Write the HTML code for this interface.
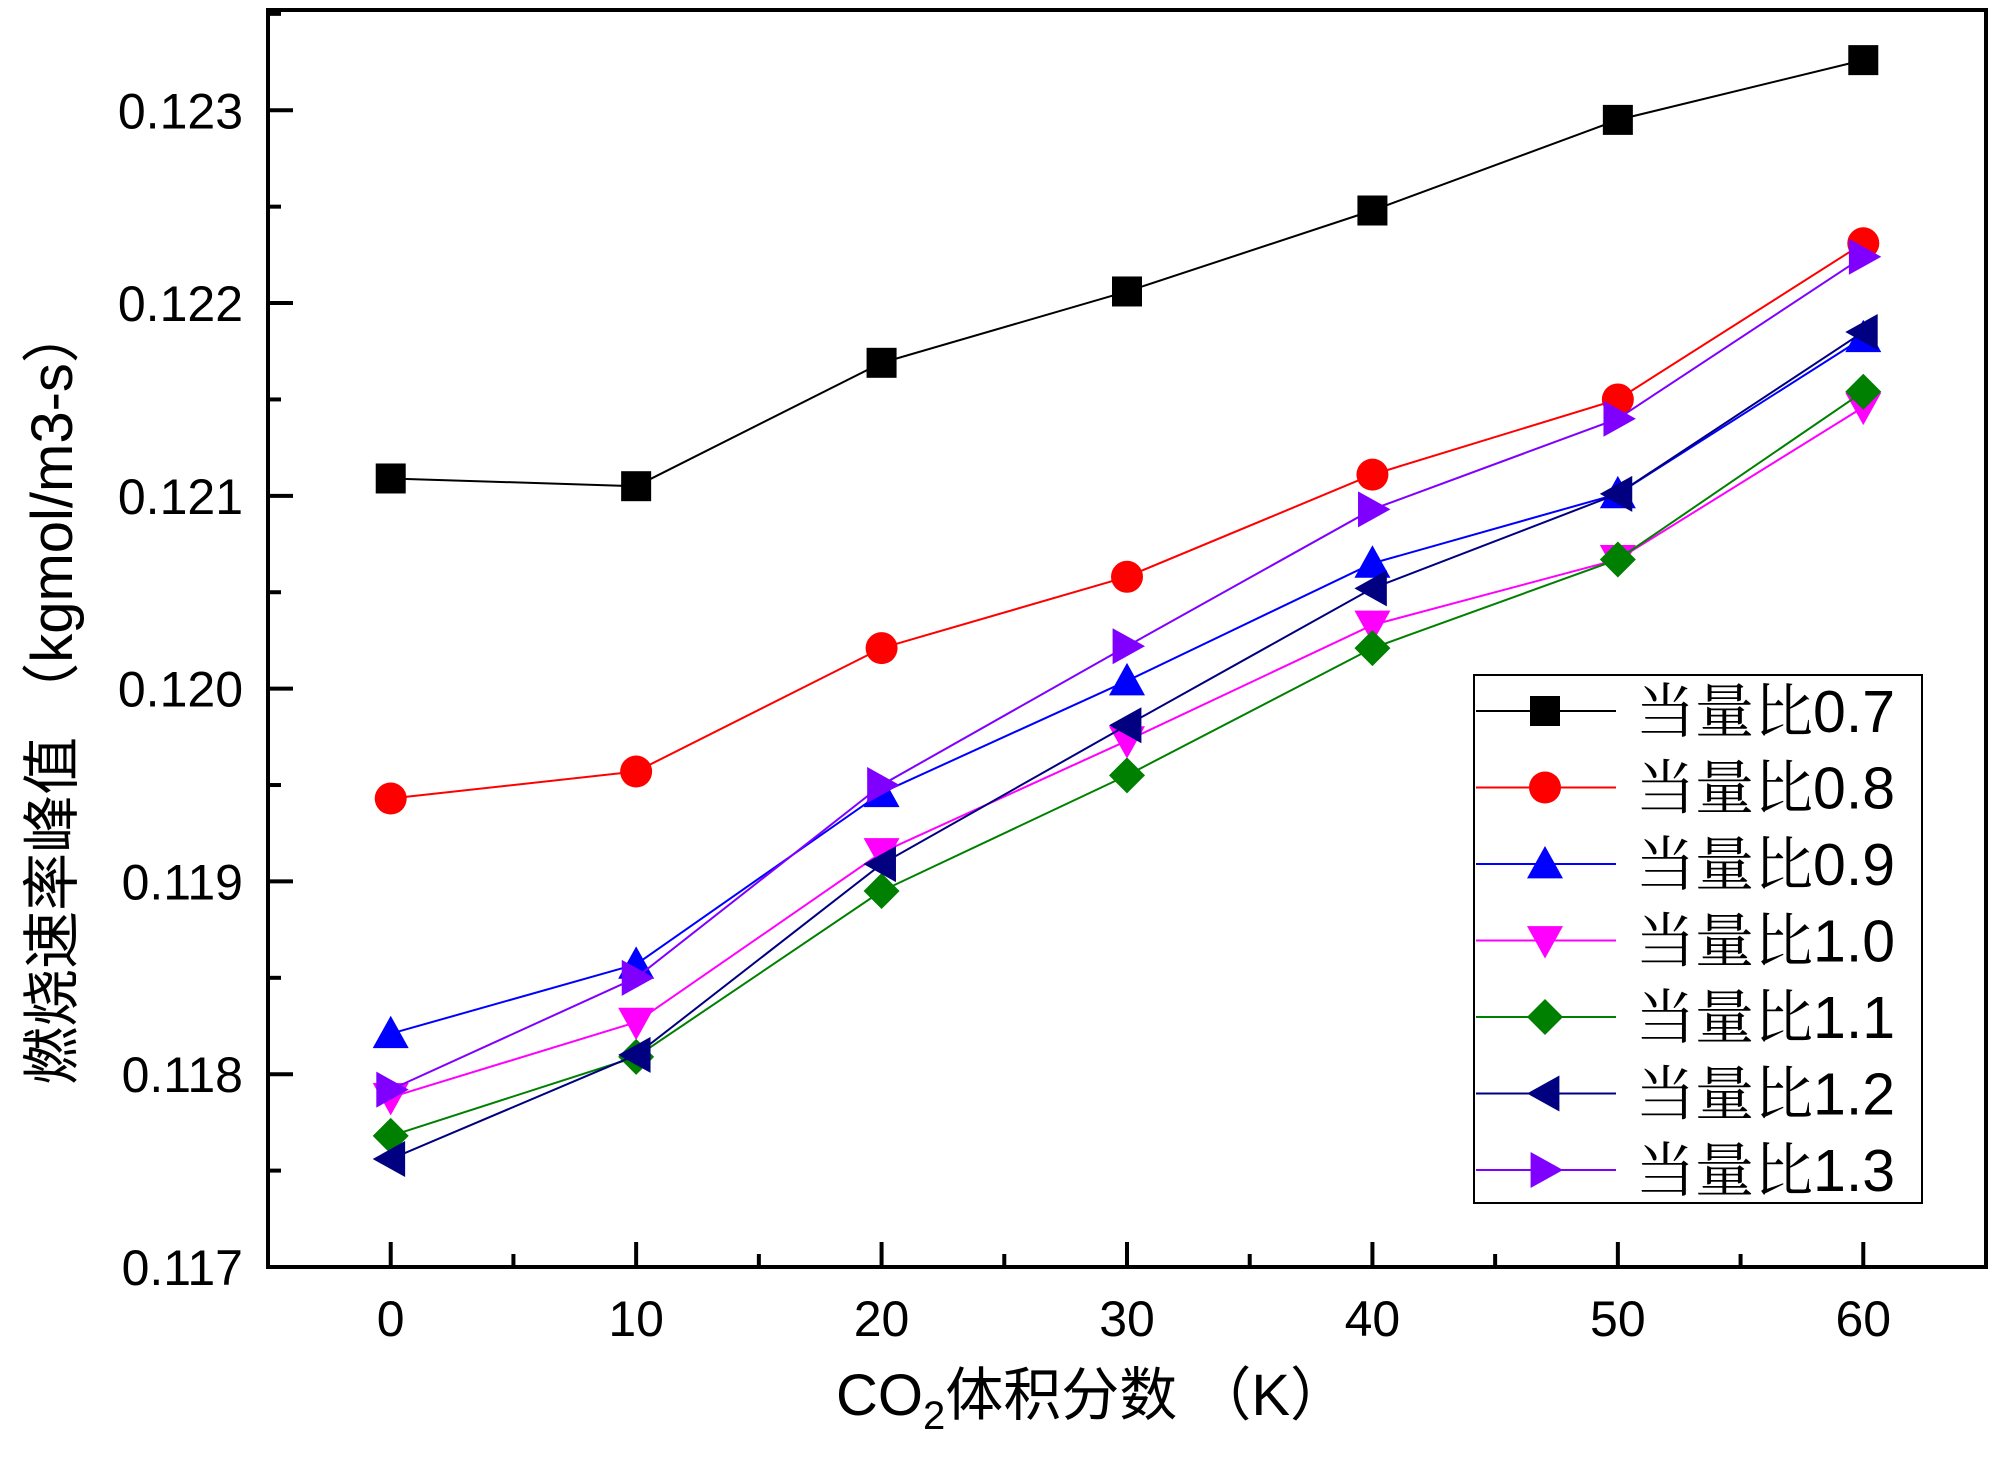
<!DOCTYPE html>
<html><head><meta charset="utf-8"><style>
html,body{margin:0;padding:0;background:#fff;}
svg{display:block;}
text{font-family:"Liberation Sans","Noto Sans CJK SC",sans-serif;fill:#000;}
.cjk{font-family:"Liberation Sans","Noto Serif CJK SC",serif;}
</style></head><body>
<svg id="chart" width="2000" height="1460" viewBox="0 0 2000 1460" xmlns="http://www.w3.org/2000/svg">
<g id="plot"></g>
</svg>
<script>
const categories=[0,10,20,30,40,50,60];
const seriesNames=["当量比0.7","当量比0.8","当量比0.9","当量比1.0","当量比1.1","当量比1.2","当量比1.3"];
const s07=[0.12109,0.12105,0.12169,0.12206,0.12248,0.12295,0.12326];
const s08=[0.11943,0.11957,0.12021,0.12058,0.12111,0.12150,0.12231];
const s09=[0.11821,0.11857,0.11946,0.12004,0.12065,0.12101,0.12182];
const s10=[0.11788,0.11827,0.11915,0.11973,0.12033,0.12067,0.12146];
const s11=[0.11768,0.11809,0.11895,0.11955,0.12021,0.12067,0.12154];
const s12=[0.11756,0.11810,0.11909,0.11981,0.12052,0.12101,0.12185];
const s13=[0.11792,0.11850,0.11950,0.12022,0.12093,0.12140,0.12224];
const yTicks=["0.117","0.118","0.119","0.120","0.121","0.122","0.123"];
const xTicks=["0","10","20","30","40","50","60"];

const NS="http://www.w3.org/2000/svg";
const L=268,R=1986,T=10,B=1267;
const xMin=-5,xMax=65,yMin=0.117,yMax=0.12352;
const sx=v=>L+(v-xMin)/(xMax-xMin)*(R-L);
const sy=v=>B-(v-yMin)/(yMax-yMin)*(B-T);
const g=document.getElementById('plot');
function mk(tag,attrs,parent){const e=document.createElementNS(NS,tag);for(const k in attrs)e.setAttribute(k,attrs[k]);(parent||g).appendChild(e);return e;}

const allSeries=[s07,s08,s09,s10,s11,s12,s13];
const colors=["#000000","#ff0000","#0000ff","#ff00ff","#008000","#000080","#8000ff"];
const shapes=["square","circle","up","down","diamond","left","right"];
function marker(shape,cx,cy,color,parent){
  let e;const s=15;
  if(shape==="square")e=mk('rect',{x:cx-s,y:cy-s,width:2*s,height:2*s,fill:color},parent);
  else if(shape==="circle")e=mk('circle',{cx:cx,cy:cy,r:16,fill:color},parent);
  else{let p;const a=18;
    if(shape==="up")p=[[cx,cy-a],[cx-a,cy+a*0.8],[cx+a,cy+a*0.8]];
    if(shape==="down")p=[[cx,cy+a],[cx-a,cy-a*0.8],[cx+a,cy-a*0.8]];
    if(shape==="left")p=[[cx-a,cy],[cx+a*0.8,cy-a],[cx+a*0.8,cy+a]];
    if(shape==="right")p=[[cx+a,cy],[cx-a*0.8,cy-a],[cx-a*0.8,cy+a]];
    if(shape==="diamond")p=[[cx,cy-a],[cx+a,cy],[cx,cy+a],[cx-a,cy]];
    e=mk('polygon',{points:p.map(q=>q.join(',')).join(' '),fill:color},parent);}
  return e;
}

allSeries.forEach((vals,si)=>{
  const grp=mk('g',{});
  
  
  const pts=vals.map((v,i)=>sx(categories[i])+','+sy(v)).join(' ');
  const pl=mk('polyline',{points:pts,fill:'none',stroke:colors[si],'stroke-width':2},grp);
  
  
  vals.forEach((v,i)=>{
    const m=marker(shapes[si],sx(categories[i]),sy(v),colors[si],grp);
    
    
  });
});

const frame=mk('rect',{x:L,y:T,width:R-L,height:B-T,fill:'none',stroke:'#000','stroke-width':4});



for(let v=-5;v<=65;v+=5){
  if(v===-5||v===65)continue;
  const major=v%10===0;
  const t=mk('line',{x1:sx(v),x2:sx(v),y1:B,y2:B-(major?25:13),stroke:'#000','stroke-width':4});
  
  
}
xTicks.forEach((lab,i)=>{
  const t=mk('text',{x:sx(categories[i]),y:1336,'font-size':50,'text-anchor':'middle'});
  t.textContent=lab;
  
  
});
for(let k=0;k<=13;k++){
  const v=yMin+k*0.0005;
  if(v>yMax)break;
  const major=k%2===0;
  const t=mk('line',{x1:L,x2:L+(major?25:13),y1:sy(v),y2:sy(v),stroke:'#000','stroke-width':4});
  
  
}
yTicks.forEach(lab=>{
  const t=mk('text',{x:243,y:sy(parseFloat(lab))+18,'font-size':50,'text-anchor':'end'});
  t.textContent=lab;
  
  
});

const xt=mk('text',{x:1092,y:1415,'font-size':58,'text-anchor':'middle'});
xt.innerHTML='CO<tspan font-size="40" dy="14">2</tspan><tspan dy="-14">体积分数 （K）</tspan>';


const yt=mk('text',{x:0,y:0,'font-size':58,'text-anchor':'middle',transform:'translate(72,695) rotate(-90)'});
yt.textContent='燃烧速率峰值 （kgmol/m3-s）';



const lg=mk('g',{});


const lb=mk('rect',{x:1474,y:675,width:448,height:528,fill:'#fff',stroke:'#000','stroke-width':2},lg);


seriesNames.forEach((n,i)=>{
  const y=711+i*76.5;
  const e=mk('g',{},lg);
  
  
  mk('line',{x1:1476,x2:1616,y1:y,y2:y,stroke:colors[i],'stroke-width':2},e);
  marker(shapes[i],1545,y,colors[i],e);
  const t=mk('text',{x:1636,y:y+21,'font-size':59,class:'cjk'},e);
  t.textContent=n;
});
</script>
</body></html>
